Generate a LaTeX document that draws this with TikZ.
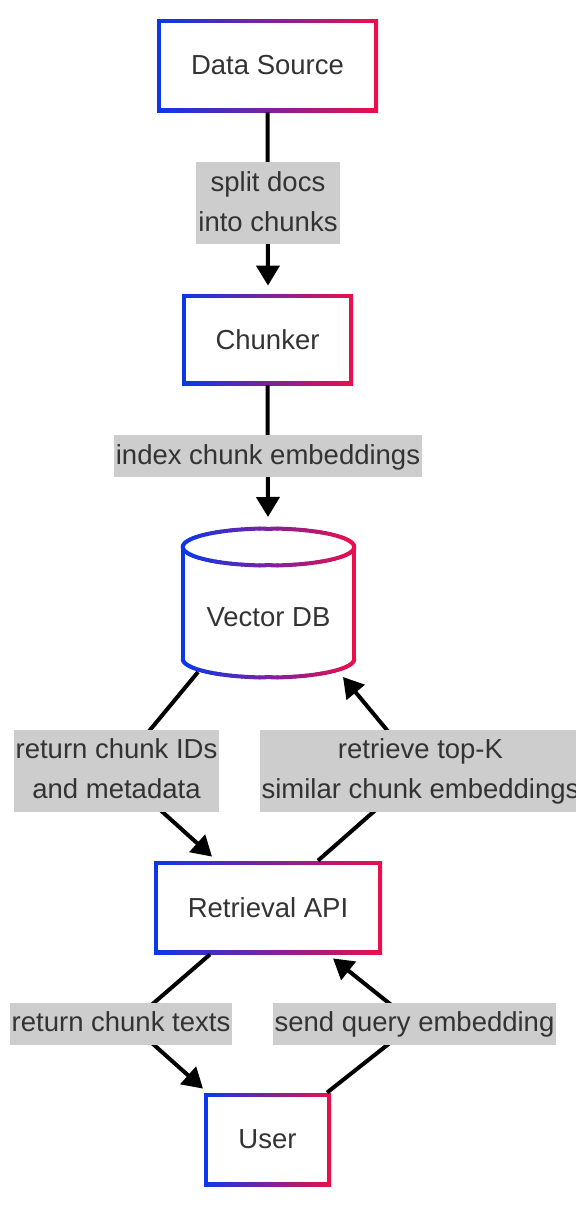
\documentclass[tikz,border=0pt]{standalone}
\usepackage{fontspec}
\setmainfont{Liberation Sans}
\usetikzlibrary{arrows.meta}
\definecolor{cA}{RGB}{10,55,235}
\definecolor{cB}{RGB}{235,15,75}
\definecolor{txt}{RGB}{51,51,51}
\definecolor{lblgray}{RGB}{205,205,205}
\begin{document}
\begin{tikzpicture}[x=0.5pt,y=-0.5pt,
  every node/.style={font=\fontsize{13.75}{20}\selectfont, text=txt},
  gnode/.style={left color=cA, right color=cB, inner sep=0pt,
    path picture={\fill[white] ([shift={(2pt,2pt)}]path picture bounding box.south west) rectangle ([shift={(-2pt,-2pt)}]path picture bounding box.north east);}},
  lbl/.style={fill=lblgray, inner xsep=1pt, inner ysep=0.5pt, align=center},
  edge/.style={line width=2pt, -{Triangle[length=10pt,width=11.5pt]}},
  cyl/.style={line width=2pt, line cap=round}]
\useasboundingbox (0,0) rectangle (576,1210);

% cylinder outline (Vector DB), gradient by segments
\draw[cyl, cA] (182.75,547) -- (182.75,659);
\draw[cyl, cB] (354.25,547) -- (354.25,659);
\foreach \a in {0,4,...,356}{
  \pgfmathsetmacro\p{50*(1+cos(\a+2))}
  \draw[cyl, color=cB!\p!cA] ({268.5+85.75*cos(\a)},{547+18.5*sin(\a)}) -- ({268.5+85.75*cos(\a+4)},{547+18.5*sin(\a+4)});
}
\foreach \a in {0,4,...,176}{
  \pgfmathsetmacro\p{50*(1+cos(\a+2))}
  \draw[cyl, color=cB!\p!cA] ({268.5+85.75*cos(\a)},{659+18.5*sin(\a)}) -- ({268.5+85.75*cos(\a+4)},{659+18.5*sin(\a+4)});
}

% nodes
\node[gnode, minimum width=110.5pt, minimum height=46.5pt] (ds) at (267.5,65.5) {Data Source};
\node[gnode, minimum width=85.5pt, minimum height=45.5pt] (chunk) at (267.5,339.5) {Chunker};
\node[inner sep=0pt] (vdb) at (268.5,617) {Vector DB};
\node[gnode, minimum width=114pt, minimum height=46.5pt] (api) at (268,907.5) {Retrieval API};
\node[gnode, minimum width=63.5pt, minimum height=46.5pt] (user) at (267.5,1139.5) {User};

% label positions
\coordinate (c1) at (268,203);
\coordinate (c2) at (268,456);
\coordinate (c3) at (116.5,770.5);
\coordinate (c4) at (420.5,770.5);
\coordinate (c5) at (121,1023.5);
\coordinate (c6) at (414.5,1023.5);

% edges
\draw[edge] (ds.south) -- ([shift={(0.5,-8)}]chunk.north);
\draw[edge] (chunk.south) -- ([shift={(-0.5,-100)}]vdb.center);
\draw[edge] ([shift={(-70.5,55)}]vdb.center) -- (c3) -- ([shift={(-56,-4)}]api.north);
\draw[edge] ([shift={(50,0)}]api.north) -- (c4) -- ([shift={(74.5,60)}]vdb.center);
\draw[edge] ([shift={(-58,0)}]api.south) -- ([shift={(9,0)}]c5) -- ([shift={(-64.5,-4)}]user.north);
\draw[edge] ([shift={(59.5,0)}]user.north) -- (c6) -- ([shift={(65,4)}]api.south);

% edge labels
\node[lbl] (l1) at (c1) {\strut split docs\\\strut into chunks};
\node[lbl] (l2) at (c2) {\strut index chunk embeddings};
\node[lbl] (l3) at (c3) {\strut return chunk IDs\\\strut and metadata};
\node[lbl] (l4) at (c4) {\strut retrieve top-K\\\strut similar chunk embeddings};
\node[lbl] (l5) at (c5) {\strut return chunk texts};
\node[lbl] (l6) at (c6) {\strut send query embedding};
\end{tikzpicture}
\end{document}
